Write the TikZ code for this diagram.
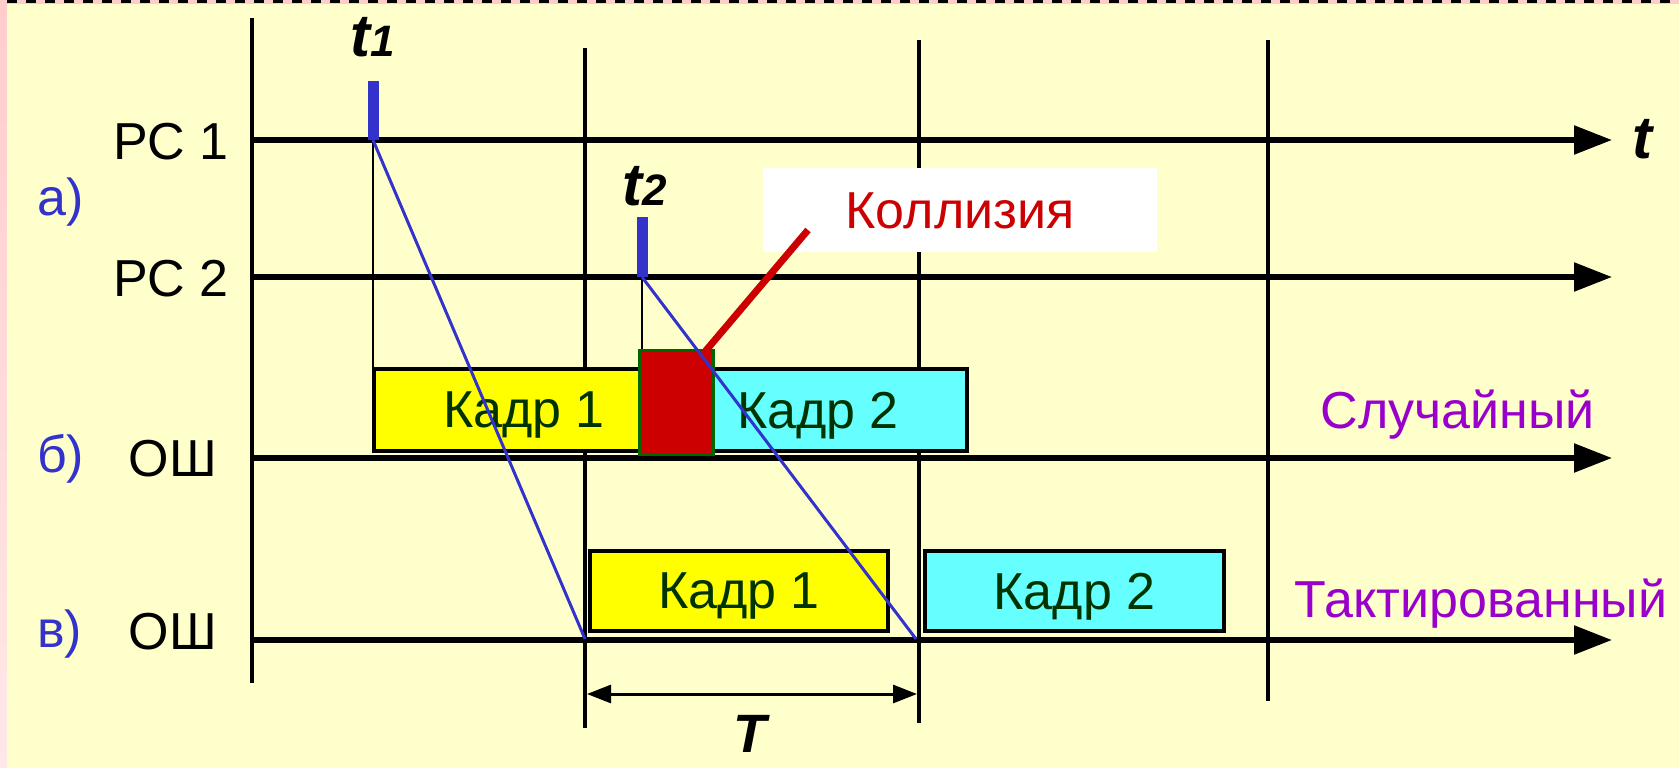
\documentclass[tikz,border=0pt]{standalone}
\usepackage{fontspec}
\setmainfont{Liberation Sans}
\usetikzlibrary{arrows.meta}
\definecolor{bgyellow}{HTML}{FFFFCC}
\definecolor{bgpink}{HTML}{FFCCCC}
\definecolor{sigblue}{HTML}{3333CC}
\definecolor{labpurple}{HTML}{9900CC}
\definecolor{colred}{HTML}{CC0000}
\definecolor{kadrgreen}{HTML}{003300}
\definecolor{edgegreen}{HTML}{006600}
\definecolor{kadryellow}{HTML}{FFFF00}
\definecolor{kadrcyan}{HTML}{66FFFF}

\begin{document}
\begin{tikzpicture}[x=1pt, y=-1pt,
      lbl/.style={inner sep=0pt, font=\fontsize{52}{60}\selectfont},
      tlbl/.style={inner sep=0pt, font=\fontsize{60}{60}\selectfont\bfseries\itshape},
      slotline/.style={line width=4.5pt},
      axis/.style={line width=5.5pt, -{Triangle[length=38pt,width=28pt]}},
      frame/.style={rectangle, draw=black, line width=4pt, inner sep=0pt, text depth=0pt,
                    text=kadrgreen, font=\fontsize{52}{60}\selectfont},
      tick/.style={sigblue, line width=11pt},
      signal/.style={sigblue, line width=3pt},
      mark line/.style={black, line width=2.8pt},
    ]
    \useasboundingbox (0,0) rectangle (1679,768);
    \shade[top color=bgpink, bottom color=bgpink!45] (0,0) rectangle (1679,768);
    \fill[bgyellow] (7,4) rectangle (1679,768);
    \draw[line width=3pt, dash pattern=on 10pt off 9pt] (7,1.5) -- (1679,1.5);

    \coordinate (v0top) at (252,18);   \coordinate (v0bot) at (252,683);
    \coordinate (v1top) at (585,48);   \coordinate (v1bot) at (585,728);
    \coordinate (v2top) at (919,40);   \coordinate (v2bot) at (919,723);
    \coordinate (v3top) at (1268,40);  \coordinate (v3bot) at (1268,701);
    \draw[slotline] (v0top) -- (v0bot);
    \draw[slotline] (v1top) -- (v1bot);
    \draw[slotline] (v2top) -- (v2bot);
    \draw[slotline] (v3top) -- (v3bot);

    \coordinate (pc1s) at (250,140);  \coordinate (pc1e) at (1612,140);
    \coordinate (pc2s) at (250,277);  \coordinate (pc2e) at (1612,277);
    \coordinate (busbs) at (250,458); \coordinate (busbe) at (1612,458);
    \coordinate (busvs) at (250,640); \coordinate (busve) at (1612,640);
    \draw[axis] (pc1s) -- (pc1e);
    \draw[axis] (pc2s) -- (pc2e);
    \draw[axis] (busbs) -- (busbe);
    \draw[axis] (busvs) -- (busve);

    \coordinate (s1) at (373,140);
    \coordinate (s2) at (642,277);

    \node[frame, fill=kadryellow, minimum width=300pt, minimum height=82pt] (kb1) at (524,410) {Кадр 1};
    \node[frame, fill=kadrcyan, minimum width=298pt, minimum height=82pt] (kb2) at (818,410) {Кадр 2};
    \node[rectangle, draw=edgegreen, fill=colred, line width=3pt, inner sep=0pt,
          minimum width=74pt, minimum height=104pt] (crash) at (676.5,402.5) {};
    \node[frame, fill=kadryellow, minimum width=298pt, minimum height=80pt] (kv1) at (739,591) {Кадр 1};
    \node[frame, fill=kadrcyan, minimum width=299pt, minimum height=80pt] (kv2) at (1074.5,591) {Кадр 2};

    \draw[mark line] (s1) -- (s1 |- kb1.north);
    \draw[mark line] (s2) -- (s2 |- crash.north);

    \coordinate (hit1) at (585,639);
    \coordinate (hit2) at (916,639);
    \draw[signal] (s1) -- (hit1);
    \draw[signal] (s2) -- (hit2);
    \draw[tick] (s1) -- ++(0,-59);
    \draw[tick] (s2) -- ++(0,-60);

    \node[rectangle, fill=white, inner sep=0pt, minimum width=394pt, minimum height=84pt] (collbox) at (960,210) {};
    \node[lbl, text=colred, anchor=base] (coll) at (960,228) {Коллизия};
    \coordinate (cpt) at (808,230);
    \coordinate (cend) at (703,354);
    \draw[colred, line width=7pt] (cpt) -- (cend);

    \coordinate (tl) at (587,694);
    \coordinate (tr) at (917,694);
    \draw[line width=3pt, {Triangle[length=24pt,width=18pt]}-{Triangle[length=24pt,width=18pt]}] (tl) -- (tr);
    \node[tlbl, font=\fontsize{54}{54}\selectfont\bfseries\itshape, anchor=base] (per) at (750,752) {T};

    \node[tlbl, anchor=base] (t1) at (373,57) {t\fontsize{44}{44}\selectfont 1};
    \node[tlbl, anchor=base] (t2) at (645,205) {t\fontsize{44}{44}\selectfont 2};
    \node[tlbl, anchor=base] (tax) at (1642,158) {t};

    \node[lbl, anchor=base east] (pc1) at (229,159) {РС 1};
    \node[lbl, anchor=base east] (pc2) at (229,296) {РС 2};
    \node[lbl, anchor=base east] (oshb) at (217,476) {ОШ};
    \node[lbl, anchor=base east] (oshv) at (217,649) {ОШ};
    \node[lbl, text=sigblue, anchor=base west] (la) at (37,215) {а)};
    \node[lbl, text=sigblue, anchor=base west] (lb) at (37,472) {б)};
    \node[lbl, text=sigblue, anchor=base west] (lv) at (37,647) {в)};

    \node[lbl, text=labpurple, anchor=base] (rand) at (1458,428) {Случайный};
    \node[lbl, text=labpurple, anchor=base] (sync) at (1481,617) {Тактированный};
  \end{tikzpicture}
\end{document}
